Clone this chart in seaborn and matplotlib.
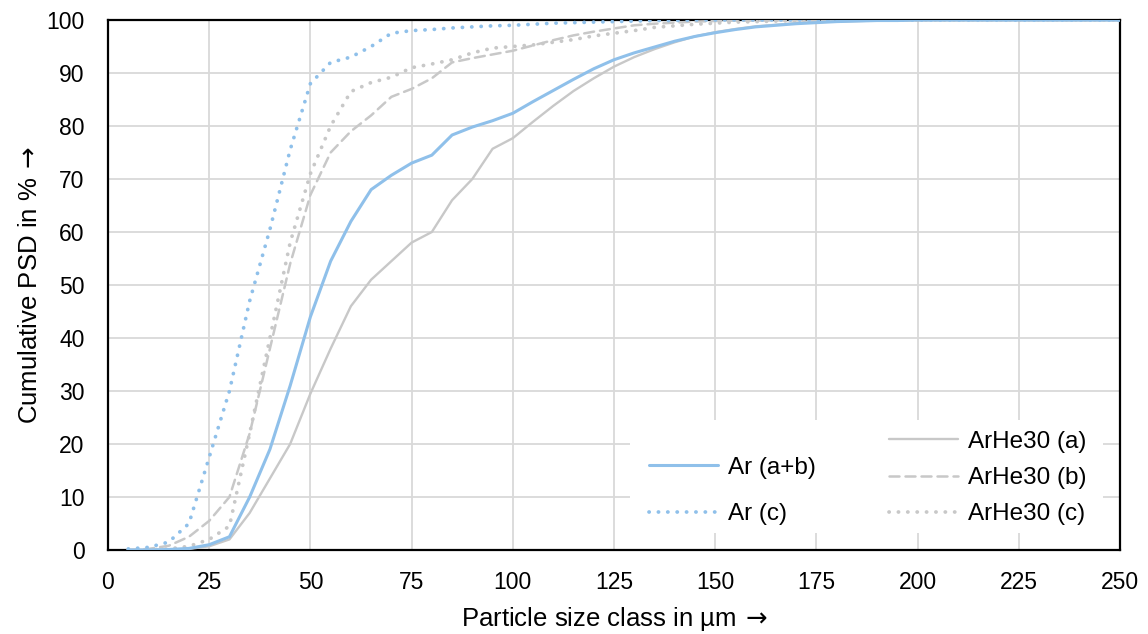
import numpy as np
import pandas as pd
import matplotlib
matplotlib.use("Agg")
import matplotlib.pyplot as plt
import seaborn as sns
from matplotlib.patches import Rectangle

# ---------------- data ----------------
size_class = list(range(5, 255, 5))  # µm

ar_ab = [0, 0, 0.1, 0.3, 1.0, 2.5, 10, 19, 31, 44,
         54.5, 62, 68, 70.7, 73, 74.5, 78.3, 79.8, 81, 82.4,
         84.6, 86.7, 88.8, 90.8, 92.5, 93.8, 94.9, 96, 96.9, 97.6,
         98.2, 98.7, 99.0, 99.3, 99.5, 99.7, 99.8, 99.9, 99.9, 100,
         100, 100, 100, 100, 100, 100, 100, 100, 100, 100]
ar_c = [0.2, 0.5, 1.5, 5, 17.5, 30, 47, 60.5, 75.5, 88,
        92, 93, 95, 97.5, 98, 98.2, 98.5, 98.7, 98.9, 99,
        99.2, 99.4, 99.5, 99.6, 99.7, 99.8, 99.9, 99.9, 100, 100,
        100, 100, 100, 100, 100, 100, 100, 100, 100, 100,
        100, 100, 100, 100, 100, 100, 100, 100, 100, 100]
arhe_a = [0, 0, 0, 0.2, 0.7, 2, 7, 13.5, 20, 29.5,
          38, 46, 51, 54.5, 58, 60, 66, 70, 75.7, 77.7,
          80.8, 83.8, 86.6, 89, 91.2, 93, 94.5, 95.8, 96.9, 97.7,
          98.3, 98.8, 99.1, 99.4, 99.6, 99.7, 99.8, 99.9, 99.9, 100,
          100, 100, 100, 100, 100, 100, 100, 100, 100, 100]
arhe_b = [0, 0.2, 0.8, 2.5, 5.5, 10, 22, 38, 54, 67,
          75, 79, 82, 85.5, 87, 89, 92, 92.8, 93.5, 94.2,
          95.2, 96.2, 97.1, 97.8, 98.4, 99, 99.3, 99.5, 99.7, 99.8,
          99.9, 99.9, 100, 100, 100, 100, 100, 100, 100, 100,
          100, 100, 100, 100, 100, 100, 100, 100, 100, 100]
arhe_c = [0, 0, 0.2, 0.7, 2, 4.5, 22, 40, 58, 71,
          80, 86.5, 88.2, 89.2, 91, 91.7, 92.5, 93.8, 94.7, 95,
          95.3, 95.8, 96.3, 97, 97.5, 98, 98.6, 98.9, 99.2, 99.4,
          99.6, 99.7, 99.8, 99.9, 99.9, 100, 100, 100, 100, 100,
          100, 100, 100, 100, 100, 100, 100, 100, 100, 100]

x_ticks = list(range(0, 275, 25))
y_ticks = list(range(0, 110, 10))

# ---------------- style ----------------
sns.set_theme(style="white")
plt.rcParams["font.family"] = ["Liberation Sans", "DejaVu Sans"]
plt.rcParams["mathtext.fontset"] = "dejavusans"

BLUE = "#8fc0ea"
GRAY = "#c8c8c8"

fig = plt.figure(figsize=(11.48, 6.34), dpi=100)
ax = fig.add_axes([108 / 1148, 1 - 550 / 634, (1120 - 108) / 1148, (550 - 20) / 634])

df = pd.DataFrame({"x": size_class, "ar_ab": ar_ab, "ar_c": ar_c,
                   "arhe_a": arhe_a, "arhe_b": arhe_b, "arhe_c": arhe_c})

dot_style = (0, (0.05, 2.45))
dash_style = (0, (4.0, 2.4))

specs = [
    ("arhe_a", "ArHe30 (a)", GRAY, "-", 1.7),
    ("arhe_b", "ArHe30 (b)", GRAY, dash_style, 1.8),
    ("arhe_c", "ArHe30 (c)", GRAY, dot_style, 2.7),
    ("ar_c", "Ar (c)", BLUE, dot_style, 2.7),
    ("ar_ab", "Ar (a+b)", BLUE, "-", 2.2),
]
handles = {}
for col, lab, colr, ls, lw in specs:
    n_before = len(ax.lines)
    sns.lineplot(data=df, x="x", y=col, ax=ax, color=colr, linestyle=ls,
                 linewidth=lw, label=lab, legend=False, zorder=3)
    line = ax.lines[n_before]
    line.set_dash_capstyle("round")
    line.set_solid_capstyle("round")
    handles[lab] = line

ax.set_xlim(0, 250)
ax.set_ylim(0, 100)
ax.set_xticks(x_ticks)
ax.set_yticks(y_ticks)
ax.tick_params(axis="both", length=0, labelsize=16.5, colors="black")
ax.tick_params(axis="y", pad=17)
ax.tick_params(axis="x", pad=15)
ax.set_axisbelow(True)
ax.grid(True, color="#d9d9d9", linewidth=1.3)
for s in ax.spines.values():
    s.set_color("black")
    s.set_linewidth(1.6)

ax.set_xlabel(r"Particle size class in µm$\,\rightarrow$", fontsize=18.5, labelpad=8, color="black")
ax.set_ylabel(r"Cumulative PSD in %$\,\rightarrow$", fontsize=18.5, labelpad=3, color="black")

# white legend background area
ax.add_patch(Rectangle(((630 - 108) / 1012, (550 - 533) / 530),
                       (1103 - 630) / 1012, (533 - 420) / 530,
                       transform=ax.transAxes, facecolor="white",
                       edgecolor="none", zorder=1))

leg1 = ax.legend([handles["Ar (a+b)"], handles["Ar (c)"]], ["Ar (a+b)", "Ar (c)"],
                 loc="center left", bbox_to_anchor=((649 - 108) / 1012, (550 - 491) / 530),
                 frameon=False, fontsize=17.5, handlelength=2.84, handletextpad=0.41,
                 labelspacing=1.02, borderpad=0, borderaxespad=0, labelcolor="black")
ax.add_artist(leg1)
leg2 = ax.legend([handles["ArHe30 (a)"], handles["ArHe30 (b)"], handles["ArHe30 (c)"]],
                 ["ArHe30 (a)", "ArHe30 (b)", "ArHe30 (c)"],
                 loc="center left", bbox_to_anchor=((889 - 108) / 1012, (550 - 478) / 530),
                 frameon=False, fontsize=17.5, handlelength=2.84, handletextpad=0.41,
                 labelspacing=0.59, borderpad=0, borderaxespad=0, labelcolor="black")

fig.savefig("out.png", dpi=100)
